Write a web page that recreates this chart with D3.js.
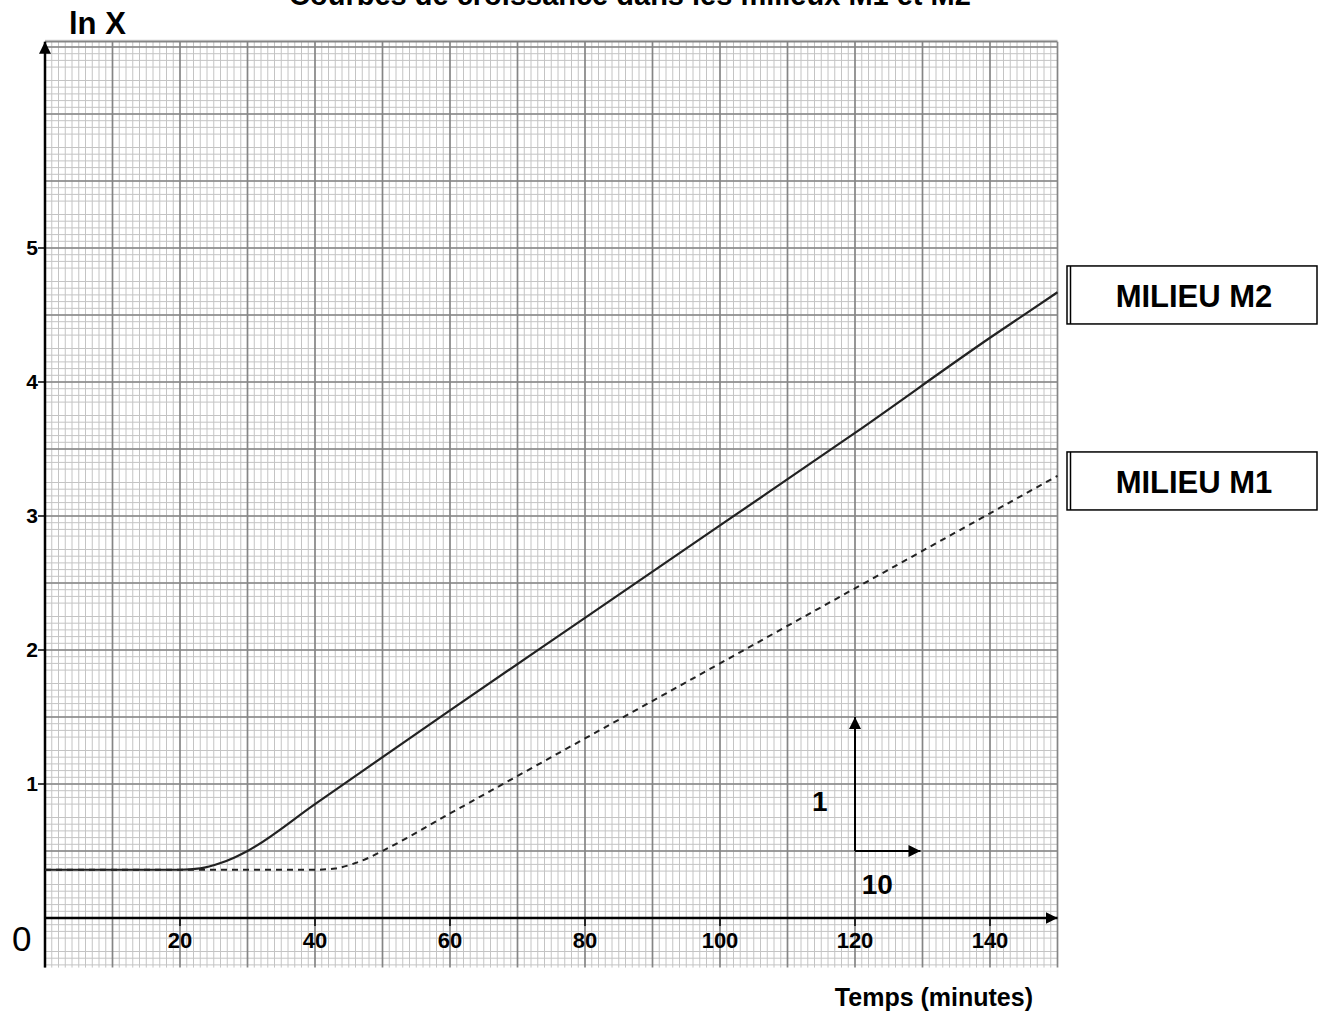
<!DOCTYPE html>
<meta charset="utf-8">
<style>
body { margin: 0; background: #fff; }
svg { display: block; font-family: "Liberation Sans", Arial, sans-serif; }
.minor line { stroke: #c4c4c4; stroke-width: 1px; }
.major line { stroke: #858585; stroke-width: 1.7px; }
.lbl { font-weight: bold; fill: #000; }
</style>
<body>
<script src="https://d3js.org/d3.v7.min.js"></script>
<script>
var width = 1322, height = 1011;

// lecture des courbes (temps en minutes, ln X)
var m2Time = [0, 10, 20, 23, 26, 28, 30, 40, 60, 80, 100, 120, 140, 150];
var m2LnX  = [0.36, 0.36, 0.36, 0.37, 0.41, 0.45, 0.5, 0.85, 1.55, 2.24, 2.93, 3.62, 4.33, 4.67];
var m1Time = [0, 20, 40, 43, 46, 48, 50, 60, 80, 100, 120, 140, 150];
var m1LnX  = [0.36, 0.36, 0.36, 0.37, 0.41, 0.45, 0.5, 0.78, 1.34, 1.9, 2.46, 3.02, 3.3];
var xTicks = [20, 40, 60, 80, 100, 120, 140];
var yTicks = [1, 2, 3, 4, 5];
var legendNames = ["MILIEU M2", "MILIEU M1"];
var legendLnX = [4.866, 3.478];

var x = d3.scaleLinear().domain([0, 150]).range([45, 1057.5]);
var y = d3.scaleLinear().domain([0, 1]).range([918, 784]);

var svg = d3.select("body").append("svg")
  .attr("width", width)
  .attr("height", height);

// papier millimétré
var xMinor = d3.range(0, 151, 1), yMinor = d3.range(-7, 132, 1).map(function(d) { return d * 0.05; });
var gMinor = svg.append("g").attr("class", "minor");
gMinor.selectAll(".v").data(xMinor.filter(function(d) { return d % 10; }))
  .enter().append("line")
  .attr("x1", x).attr("x2", x).attr("y1", y(-0.37)).attr("y2", y(6.54));
gMinor.selectAll(".h").data(yMinor.filter(function(d, i) { return (i + 7) % 10; }))
  .enter().append("line")
  .attr("y1", y).attr("y2", y).attr("x1", x(0)).attr("x2", x(150));

var gMajor = svg.append("g").attr("class", "major");
gMajor.selectAll(".v").data(d3.range(0, 151, 10))
  .enter().append("line")
  .attr("x1", x).attr("x2", x).attr("y1", y(-0.37)).attr("y2", y(6.54));
gMajor.selectAll(".h").data(d3.range(0, 6.6, 0.5).concat([6.54]))
  .enter().append("line")
  .attr("y1", y).attr("y2", y).attr("x1", x(0)).attr("x2", x(150));

// flèches
svg.append("defs").append("marker")
  .attr("id", "arrow").attr("viewBox", "0 0 10 10")
  .attr("refX", 10).attr("refY", 5)
  .attr("markerWidth", 12).attr("markerHeight", 14)
  .attr("markerUnits", "userSpaceOnUse")
  .attr("orient", "auto")
  .append("path").attr("d", "M0,0L10,5L0,10Z").attr("fill", "#000");

svg.append("line")
  .attr("x1", x(0)).attr("x2", x(0)).attr("y1", y(-0.37)).attr("y2", y(6.54))
  .attr("stroke", "#000").attr("stroke-width", 2.5).attr("marker-end", "url(#arrow)");
svg.append("line")
  .attr("x1", x(0)).attr("x2", x(150)).attr("y1", y(0)).attr("y2", y(0))
  .attr("stroke", "#000").attr("stroke-width", 2.5).attr("marker-end", "url(#arrow)");

// graduations
svg.selectAll(".xt").data(xTicks).enter().append("line")
  .attr("x1", x).attr("x2", x).attr("y1", y(0)).attr("y2", y(0) + 8)
  .attr("stroke", "#000").attr("stroke-width", 1.5);
svg.selectAll(".xl").data(xTicks).enter().append("text")
  .attr("class", "lbl").attr("x", x).attr("y", y(0) + 30)
  .attr("text-anchor", "middle").attr("font-size", 22)
  .text(function(d) { return d; });
svg.selectAll(".yt").data(yTicks).enter().append("line")
  .attr("x1", x(0) - 7).attr("x2", x(0)).attr("y1", y).attr("y2", y)
  .attr("stroke", "#000").attr("stroke-width", 1.5);
svg.selectAll(".yl").data(yTicks).enter().append("text")
  .attr("class", "lbl").attr("x", x(0) - 7).attr("y", function(d) { return y(d) + 7; })
  .attr("text-anchor", "end").attr("font-size", 21)
  .text(function(d) { return d; });
svg.append("text").attr("x", 12).attr("y", 951).attr("font-size", 35).text("0");

// courbes
var line = d3.line().curve(d3.curveMonotoneX)
  .x(function(d) { return x(d[0]); }).y(function(d) { return y(d[1]); });
svg.append("path").datum(d3.zip(m2Time, m2LnX))
  .attr("d", line).attr("fill", "none").attr("stroke", "#222").attr("stroke-width", 2.2);
svg.append("path").datum(d3.zip(m1Time, m1LnX))
  .attr("d", line).attr("fill", "none").attr("stroke", "#222").attr("stroke-width", 2)
  .attr("stroke-dasharray", "6,5");

// échelle
svg.append("line")
  .attr("x1", x(120)).attr("x2", x(120)).attr("y1", y(0.5)).attr("y2", y(1.5))
  .attr("stroke", "#000").attr("stroke-width", 2).attr("marker-end", "url(#arrow)");
svg.append("line")
  .attr("x1", x(120)).attr("x2", x(129.7)).attr("y1", y(0.5)).attr("y2", y(0.5))
  .attr("stroke", "#000").attr("stroke-width", 2).attr("marker-end", "url(#arrow)");
svg.append("text").attr("class", "lbl").attr("x", 812).attr("y", y(0.8))
  .attr("font-size", 28).text("1");
svg.append("text").attr("class", "lbl").attr("x", x(123.3)).attr("y", y(0.18))
  .attr("font-size", 28).attr("text-anchor", "middle").text("10");

// titres
svg.append("text").attr("class", "lbl").attr("x", 630).attr("y", 5)
  .attr("text-anchor", "middle").attr("font-size", 29)
  .text("Courbes de croissance dans les milieux M1 et M2");
svg.append("text").attr("class", "lbl").attr("x", 69).attr("y", 34)
  .attr("font-size", 31).text("ln X");
svg.append("text").attr("class", "lbl").attr("x", 1033).attr("y", 1006)
  .attr("text-anchor", "end").attr("font-size", 25).text("Temps (minutes)");

// légendes
var leg = svg.selectAll(".leg").data(legendNames).enter().append("g")
  .attr("transform", function(d, i) { return "translate(1067," + y(legendLnX[i]) + ")"; });
leg.append("rect").attr("x", 0).attr("y", 0).attr("width", 250).attr("height", 58)
  .attr("fill", "#fff").attr("stroke", "#000").attr("stroke-width", 1.5);
leg.append("line").attr("x1", 3.5).attr("x2", 3.5).attr("y1", 0).attr("y2", 58)
  .attr("stroke", "#000").attr("stroke-width", 1.5);
leg.append("text").attr("class", "lbl").attr("x", 127).attr("y", 41)
  .attr("text-anchor", "middle").attr("font-size", 31)
  .text(function(d) { return d; });
</script>
</body>
